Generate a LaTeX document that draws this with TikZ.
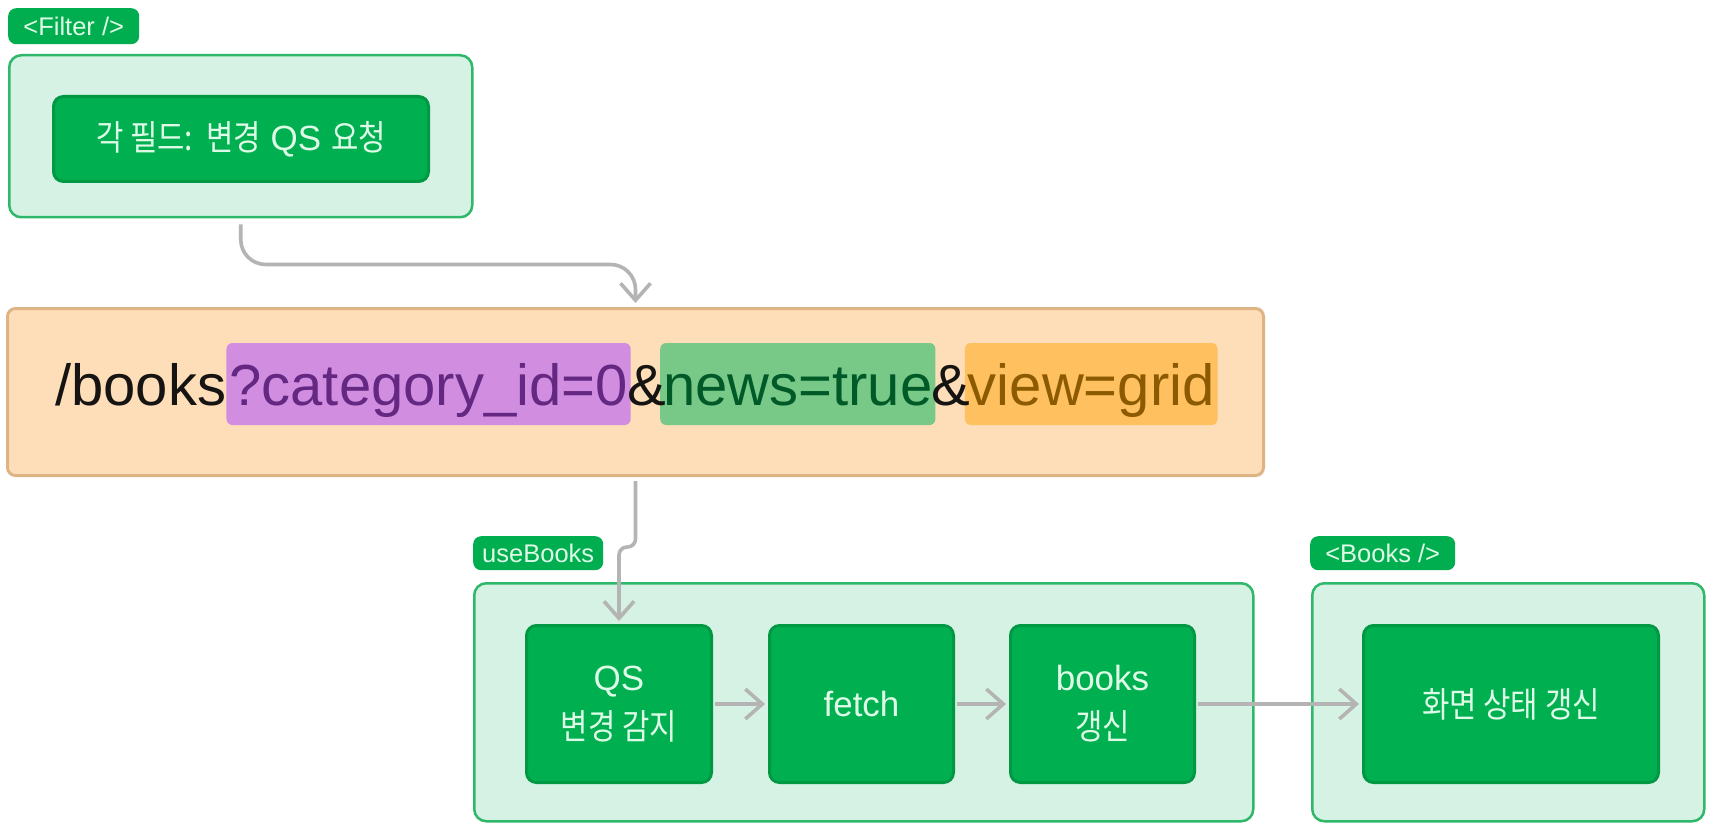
\documentclass[tikz,border=0pt]{standalone}
\usepackage{fontspec}
\setmainfont{Liberation Sans}
\newfontfamily\kr[FakeStretch=0.85]{Noto Sans CJK KR}
\usetikzlibrary{arrows.meta}
\pgfdeclarelayer{hilite}
\pgfsetlayers{hilite,main}
\definecolor{mint}{HTML}{D5F2E4}
\definecolor{contborder}{HTML}{2FB86A}
\definecolor{btngreen}{HTML}{00AF50}
\definecolor{btnborder}{HTML}{009843}
\definecolor{btntext}{HTML}{DDFBE6}
\definecolor{taggreen}{HTML}{00AE4F}
\definecolor{arrgray}{HTML}{B4B4B4}
\definecolor{urlfill}{HTML}{FDDEB8}
\definecolor{urlborder}{HTML}{DDB483}
\definecolor{urltxt}{HTML}{161412}
\definecolor{purpfill}{HTML}{D18EE0}
\definecolor{purptxt}{HTML}{642882}
\definecolor{grnfill}{HTML}{78C887}
\definecolor{grntxt}{HTML}{005A28}
\definecolor{orgfill}{HTML}{FFC05F}
\definecolor{orgtxt}{HTML}{8C5A00}
\begin{document}
\begin{tikzpicture}[x=1pt,y=-1pt,
  cont/.style={draw=contborder, fill=mint, line width=2.5pt, rounded corners=12pt, anchor=north west, inner sep=0pt},
  btn/.style={draw=btnborder, fill=btngreen, line width=3pt, rounded corners=10pt, anchor=north west, text=btntext, font=\fontsize{35}{49}\selectfont, align=center, inner sep=0pt},
  tagbox/.style={fill=taggreen, rounded corners=8pt, anchor=north west, text=btntext, font=\fontsize{25.5}{28}\selectfont, inner sep=0pt},
  arr/.style={draw=arrgray, line width=3.6pt, -{Straight Barb[length=17pt,width=30pt]}},
  urltext/.style={anchor=base west, inner sep=0pt, text=urltxt, font=\fontsize{58}{60}\selectfont},
  hl/.style={anchor=base west, inner xsep=3pt, inner ysep=0pt, text height=62pt, text depth=20pt, rounded corners=6pt, font=\fontsize{58}{60}\selectfont}
]
\begin{pgfonlayer}{hilite}
\fill[white] (0,0) rectangle (1713,829);
\node[draw=urlborder, fill=urlfill, line width=3pt, rounded corners=8pt, anchor=north west, inner sep=0pt, minimum width=1256pt, minimum height=167pt] (urlbox) at (6,307) {};
\end{pgfonlayer}
\useasboundingbox (0,0) rectangle (1713,829);

% Filter
\node[tagbox, minimum width=131pt, minimum height=36pt] (filterlbl) at (8,8) {<Filter />};
\node[cont, minimum width=463pt, minimum height=162pt] (filterbox) at (8,54) {};
\node[btn, minimum width=375pt, minimum height=85pt] (filterbtn) at (52,95) {{\kr 각 필드:} {\kr 변경} QS {\kr 요청}};

% URL
\node[urltext] (u0) at (55,405) {/books};
\begin{pgfonlayer}{hilite}
\node[hl, fill=purpfill, text=purptxt] (u1) at (u0.base east) {?category\_id=0};
\end{pgfonlayer}
\node[urltext] (u2) at ([xshift=-4pt]u1.base east) {\&};
\begin{pgfonlayer}{hilite}
\node[hl, fill=grnfill, text=grntxt] (u3) at ([xshift=-6pt]u2.base east) {news=true};
\end{pgfonlayer}
\node[urltext] (u4) at ([xshift=-4pt]u3.base east) {\&};
\begin{pgfonlayer}{hilite}
\node[hl, fill=orgfill, text=orgtxt] (u5) at ([xshift=-6pt]u4.base east) {view=grid};
\end{pgfonlayer}

% useBooks
\node[tagbox, minimum width=130pt, minimum height=34pt] (uselbl) at (473,536) {useBooks};
\node[cont, minimum width=779pt, minimum height=238pt] (usebox) at (473,582) {};
\node[btn, minimum width=185pt, minimum height=157pt] (qs) at (525,624) {QS\\{\kr 변경 감지}};
\node[btn, minimum width=184pt, minimum height=157pt] (fetch) at (768,624) {fetch};
\node[btn, minimum width=184pt, minimum height=157pt] (books) at (1009,624) {books\\{\kr 갱신}};

% Books
\node[tagbox, minimum width=145pt, minimum height=34pt] (bookslbl) at (1310,536) {<Books />};
\node[cont, minimum width=392pt, minimum height=238pt] (booksbox) at (1311,582) {};
\node[btn, minimum width=295pt, minimum height=157pt] (screen) at (1362,624) {{\kr 화면 상태 갱신}};

% connectors
\draw[arr, rounded corners=25pt] ([yshift=-6pt]filterbox.south) -- ++(0,40) -| ([yshift=4pt]urlbox.north);
\draw[arr, rounded corners=8pt] ([yshift=-4pt]urlbox.south) -- ++(0,66) -| ([yshift=3pt]qs.north);
\draw[arr] ([xshift=2pt]qs.east) -- ([xshift=-3pt]fetch.west);
\draw[arr] ([xshift=2pt]fetch.east) -- ([xshift=-3pt]books.west);
\draw[arr] ([xshift=2pt]books.east) -- ([xshift=-3pt]screen.west);
\end{tikzpicture}
\end{document}
